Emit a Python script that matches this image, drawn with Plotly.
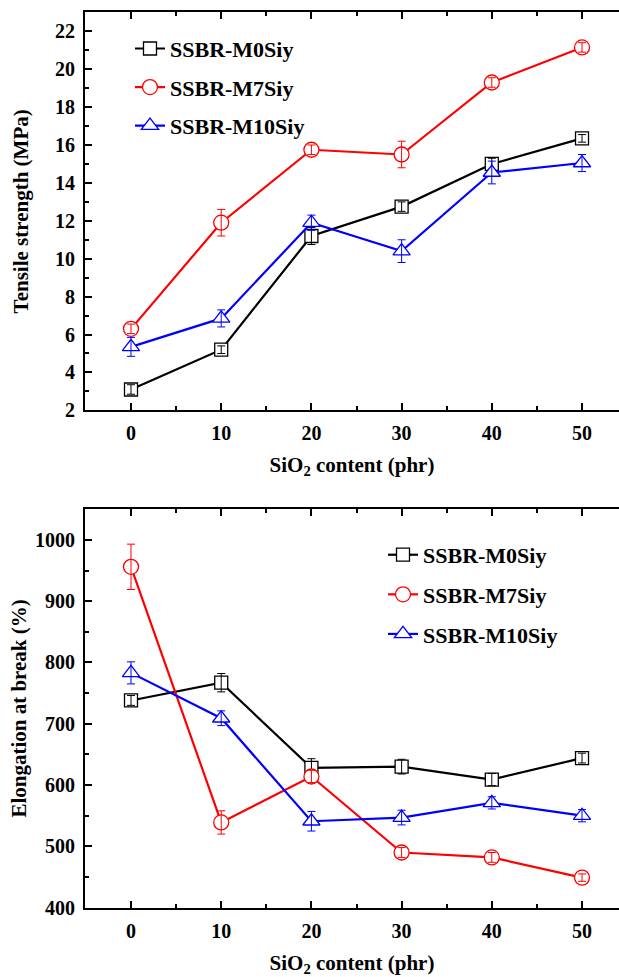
import plotly.graph_objects as go

# SiO2 loading (phr)
sio2_phr = [0, 10, 20, 30, 40, 50]

# Tensile strength (MPa) with standard deviations
ts_m0 = [3.1, 5.2, 11.2, 12.75, 15.0, 16.35]
ts_m0_err = [0.25, 0.2, 0.45, 0.25, 0.3, 0.2]
ts_m7 = [6.3, 11.9, 15.75, 15.5, 19.3, 21.15]
ts_m7_err = [0.25, 0.7, 0.25, 0.7, 0.25, 0.25]
ts_m10 = [5.35, 6.85, 11.9, 10.4, 14.55, 15.05]
ts_m10_err = [0.5, 0.45, 0.4, 0.6, 0.6, 0.45]

# Elongation at break (%) with standard deviations
el_m0 = [738, 767, 628, 630, 609, 644]
el_m0_err = [8, 15, 15, 12, 10, 8]
el_m7 = [956, 539, 614, 490, 482, 449]
el_m7_err = [37, 19, 10, 8, 8, 6]
el_m10 = [783, 709, 541, 547, 571, 550]
el_m10_err = [18, 12, 16, 12, 10, 10]

series_names = ["SSBR-M0Siy", "SSBR-M7Siy", "SSBR-M10Siy"]
colors = ["#000000", "#ff0000", "#0000ff"]
symbols = ["square", "circle", "triangle-up"]
sizes = [13, 15, 15]

W, H = 619, 977
FONT = "Liberation Serif"


def px_x(p):
    return p / W


def px_y(p):
    return 1 - p / H


fig = go.Figure()

panels = [
    dict(xa="x", ya="y", legend="legend",
         ys=[ts_m0, ts_m7, ts_m10], errs=[ts_m0_err, ts_m7_err, ts_m10_err]),
    dict(xa="x2", ya="y2", legend="legend2",
         ys=[el_m0, el_m7, el_m10], errs=[el_m0_err, el_m7_err, el_m10_err]),
]

for panel in panels:
    for name, col, sym, sz, yv, ev in zip(series_names, colors, symbols, sizes,
                                           panel["ys"], panel["errs"]):
        # line + white-filled hollow-looking markers
        fig.add_trace(go.Scatter(
            x=sio2_phr, y=yv, name=name, mode="lines+markers",
            xaxis=panel["xa"], yaxis=panel["ya"], legend=panel["legend"],
            legendgroup=panel["legend"] + name,
            line=dict(color=col, width=2.2),
            marker=dict(symbol=sym, size=sz, color="white",
                        line=dict(color=col, width=1.3)),
        ))
        # error bars drawn on top of the markers
        fig.add_trace(go.Scatter(
            x=sio2_phr, y=yv, mode="markers", showlegend=False,
            xaxis=panel["xa"], yaxis=panel["ya"], hoverinfo="skip",
            marker=dict(size=2, opacity=0),
            error_y=dict(type="data", array=ev, visible=True,
                         color=col, thickness=1, width=4),
        ))

axis_common = dict(
    showline=True, linewidth=2, linecolor="black", showgrid=False,
    zeroline=False, ticks="inside", ticklen=7, tickwidth=2, tickcolor="black",
    tickfont=dict(family=FONT, size=20, color="black", weight="bold"),
)
x_common = dict(axis_common, range=[-5.1, 54.1], dtick=10, tick0=0,
                mirror="ticks",
                minor=dict(dtick=5, ticks="inside", ticklen=4, tickwidth=2,
                           tickcolor="black"),
                ticklabelstandoff=4)
title_font = dict(family=FONT, size=21, color="black", weight="bold")
legend_font = dict(family=FONT, size=22, color="black", weight="bold")

fig.update_layout(
    width=W, height=H,
    margin=dict(l=0, r=0, t=0, b=0),
    paper_bgcolor="white", plot_bgcolor="white",
    showlegend=True,
    xaxis=dict(x_common, domain=[px_x(85), 1.0], anchor="y",
               title=dict(text="SiO<sub>2</sub> content (phr)", font=title_font,
                          standoff=14)),
    yaxis=dict(axis_common, domain=[px_y(415), px_y(12.5)], anchor="x",
               range=[2, 23], dtick=2, tick0=2,
               minor=dict(dtick=1, ticks="inside", ticklen=4, tickwidth=2,
                          tickcolor="black"),
               ticklabelstandoff=4,
               title=dict(text="Tensile strength (MPa)", font=title_font,
                          standoff=21)),
    xaxis2=dict(x_common, domain=[px_x(85), 1.0], anchor="y2",
                title=dict(text="SiO<sub>2</sub> content (phr)", font=title_font,
                           standoff=17)),
    yaxis2=dict(axis_common, domain=[px_y(918), px_y(515)], anchor="x2",
                range=[400, 1050], dtick=100, tick0=400,
                minor=dict(dtick=50, ticks="inside", ticklen=4, tickwidth=2,
                           tickcolor="black"),
                ticklabelstandoff=4,
                title=dict(text="Elongation at break (%)", font=title_font,
                           standoff=3)),
    legend=dict(x=px_x(130), y=px_y(28), xanchor="left", yanchor="top",
                bgcolor="rgba(0,0,0,0)", tracegroupgap=7,
                font=legend_font),
    legend2=dict(x=px_x(383), y=px_y(540), xanchor="left", yanchor="top",
                 bgcolor="rgba(0,0,0,0)", tracegroupgap=8,
                 font=legend_font),
)

fig.write_html("out.html")
